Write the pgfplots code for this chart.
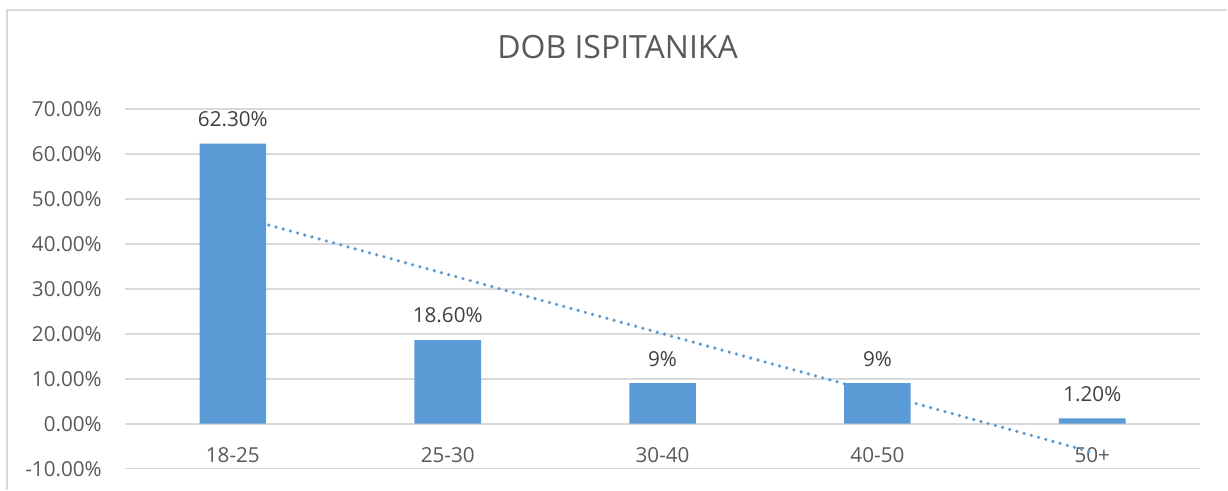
\documentclass[border=0pt]{standalone}
\usepackage{fontspec}
\setmainfont{Open Sans}
\usepackage{pgfplots}
\pgfplotsset{compat=1.18}
\definecolor{barblue}{HTML}{5B9BD5}
\definecolor{gridgray}{HTML}{D9D9D9}
\definecolor{txtgray}{HTML}{595959}
\definecolor{lblgray}{HTML}{404040}
\begin{document}
\begin{tikzpicture}
\begin{axis}[
  name=ax,
  scale only axis,
  width=806.25pt, height=270pt,
  xmin=0.5, xmax=5.5, ymin=-10, ymax=70,
  xtick={1,2,3,4,5},
  xticklabels={18-25,25-30,30-40,40-50,50+},
  ytick={-10,0,10,20,30,40,50,60,70},
  yticklabels={-10.00\%,0.00\%,10.00\%,20.00\%,30.00\%,40.00\%,50.00\%,60.00\%,70.00\%},
  ymajorgrids,
  grid style={gridgray, line width=1.2pt},
  axis line style={draw=none},
  major tick length=0pt,
  tick label style={font=\fontsize{15.5}{18}\selectfont, text=txtgray, inner sep=0pt},
  yticklabel style={anchor=east, xshift=-17.6pt},
  xticklabel style={anchor=base, yshift=4.5pt},
  title={DOB ISPITANIKA},
  title style={at={(0.4581,1.1167)}, anchor=base, inner sep=0pt, font=\fontsize{24}{28}\selectfont, text=txtgray},
  clip=false,
]
\addplot[ybar, bar width=50pt, fill=barblue, draw=none,
  point meta=explicit symbolic,
  nodes near coords={\pgfplotspointmeta\%},
  every node near coord/.append style={font=\fontsize{15.5}{18}\selectfont, text=lblgray, inner sep=0pt, yshift=12.5pt}]
  table[meta=lab] {
x y lab
1 62.3 62.30
2 18.6 18.60
3 9 9
4 9 9
5 1.2 1.20
};
\addplot[barblue, line width=2.7pt, dash pattern=on 0pt off 5.6pt, line cap=round]
  coordinates {(1,46.38) (5,-6.34)};
\end{axis}
\draw[gridgray, line width=1.2pt] ([xshift=-88.875pt, yshift=-15.75pt]ax.south west) |- ([xshift=20.625pt, yshift=74.25pt]ax.north east);
\path ([xshift=-94.125pt, yshift=-15.75pt]ax.south west) rectangle ([xshift=20.625pt, yshift=81.75pt]ax.north east);
\end{tikzpicture}
\end{document}
